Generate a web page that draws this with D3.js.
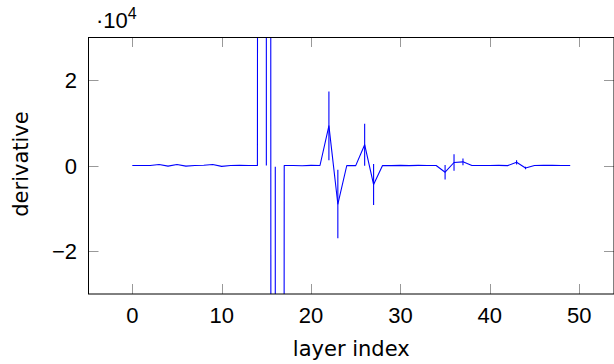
<!DOCTYPE html>
<html>
<head>
<meta charset="utf-8">
<script src="https://cdn.jsdelivr.net/npm/d3@7"></script>
<style>
  body { margin: 0; background: #fff; }
  svg text { font-family: "Liberation Sans", Arial, sans-serif; fill: #000; }
  svg text.axis-label { font-family: "DejaVu Sans", sans-serif; }
</style>
</head>
<body>
<div id="chart"></div>
<script>
// layer index 0..49
var layers = d3.range(50);

// derivative per layer (mean)
var derivative = [
    0, 0, 0, 250, -150, 250, -150, 0, 50, 250,
    -200, 0, 50, 0, 0, 3000000, -3000000, 0, 0, -60,
    40, 0, 9250, -9000, 0, -30, 4850, -4450, 0, -20,
    40, -40, 20, 0, -15, -1570, 700, 850, 0, -10,
    -10, 35, -30, 750, -600, -10, 40, 20, -5, 5
];

// error bar half-length per layer
var derivativeErr = [
    0, 0, 0, 0, 0, 0, 0, 0, 0, 0,
    0, 0, 0, 0, 0, 3000000, 2999700, 0, 0, 0,
    0, 0, 8000, 8000, 0, 0, 4900, 4800, 0, 50,
    80, 60, 0, 0, 0, 1670, 1920, 800, 0, 0,
    0, 0, 0, 500, 300, 0, 0, 0, 0, 0
];

var xTicks = [0, 10, 20, 30, 40, 50];
var yTicks = [-20000, 0, 20000];

var width = 614,
    height = 364,
    plotLeft = 88.5,
    plotRight = 614,
    plotTop = 37,
    plotBottom = 294,
    tickLen = 10;

var svg = d3.select('#chart').append('svg')
    .attr('width', width)
    .attr('height', height);

var x = d3.scaleLinear().domain([-4.9, 53.9]).range([plotLeft, plotRight]);
var y = d3.scaleLinear().domain([-30000, 30000]).range([plotBottom, plotTop]);

svg.append('clipPath').attr('id', 'plot-clip')
    .append('rect')
    .attr('x', plotLeft).attr('y', plotTop)
    .attr('width', plotRight - plotLeft).attr('height', plotBottom - plotTop);

// ticks (inside, on both sides)
var tickG = svg.append('g').attr('stroke', '#999').attr('stroke-width', 1);

xTicks.forEach(function(t) {
    var px = Math.round(x(t)) + 0.5;
    tickG.append('line').attr('x1', px).attr('x2', px).attr('y1', plotBottom).attr('y2', plotBottom - tickLen);
    tickG.append('line').attr('x1', px).attr('x2', px).attr('y1', plotTop).attr('y2', plotTop + tickLen);
});
yTicks.forEach(function(t) {
    var py = Math.round(y(t)) + 0.5;
    tickG.append('line').attr('x1', plotLeft).attr('x2', plotLeft + tickLen).attr('y1', py).attr('y2', py);
    tickG.append('line').attr('x1', plotRight).attr('x2', plotRight - tickLen).attr('y1', py).attr('y2', py);
});

// data
var pts = layers.map(function(l, i) {
    return { x: l, y: derivative[i], e: derivativeErr[i] };
});

var plot = svg.append('g').attr('clip-path', 'url(#plot-clip)');

plot.selectAll('.err')
    .data(pts.filter(function(d) { return d.e > 0; }))
    .enter().append('line')
    .attr('class', 'err')
    .attr('x1', function(d) { return x(d.x); })
    .attr('x2', function(d) { return x(d.x); })
    .attr('y1', function(d) { return y(d.y - d.e); })
    .attr('y2', function(d) { return y(d.y + d.e); })
    .attr('stroke', '#0000ff')
    .attr('stroke-width', 1.1);

plot.append('path')
    .datum(pts)
    .attr('d', d3.line().x(function(d) { return x(d.x); }).y(function(d) { return y(d.y); }))
    .attr('fill', 'none')
    .attr('stroke', '#0000ff')
    .attr('stroke-width', 1.1)
    .attr('stroke-linejoin', 'round');

// axis box
svg.append('rect')
    .attr('x', plotLeft).attr('y', plotTop + 0.5)
    .attr('width', plotRight - plotLeft).attr('height', plotBottom - plotTop - 0.5)
    .attr('fill', 'none')
    .attr('stroke', '#000')
    .attr('stroke-width', 1);

// tick labels
svg.selectAll('.xl')
    .data(xTicks)
    .enter().append('text')
    .attr('x', function(d) { return x(d); })
    .attr('y', 323)
    .attr('text-anchor', 'middle')
    .attr('font-size', 22)
    .text(function(d) { return d; });

svg.selectAll('.yl')
    .data(yTicks)
    .enter().append('text')
    .attr('x', 77)
    .attr('y', function(d) { return y(d) + 8; })
    .attr('text-anchor', 'end')
    .attr('font-size', 22)
    .text(function(d) { return d < 0 ? '\u2212' + Math.abs(d / 10000) : d / 10000; });

// scale factor
var sf = svg.append('text').attr('x', 96).attr('y', 28).attr('font-size', 22);
sf.append('tspan').text('\u00b710');
sf.append('tspan').attr('font-size', 16).attr('dy', -9).text('4');

// axis labels
svg.append('text')
    .attr('class', 'axis-label')
    .attr('x', (plotLeft + 614) / 2)
    .attr('y', 356)
    .attr('text-anchor', 'middle')
    .attr('font-size', 21)
    .text('layer index');

svg.append('text')
    .attr('class', 'axis-label')
    .attr('transform', 'translate(28,164) rotate(-90)')
    .attr('text-anchor', 'middle')
    .attr('font-size', 21)
    .text('derivative');
</script>
</body>
</html>
